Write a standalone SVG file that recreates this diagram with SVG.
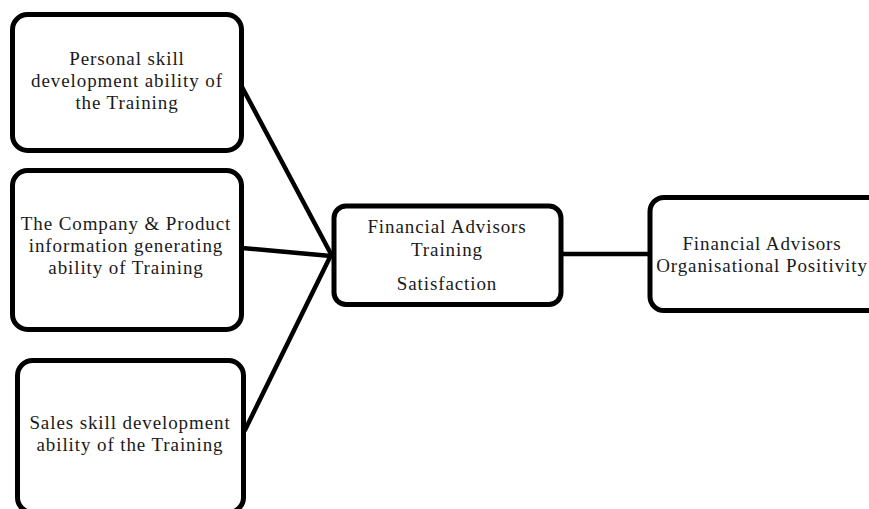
<svg xmlns="http://www.w3.org/2000/svg" width="869" height="509" viewBox="0 0 869 509">
<style>
.box{fill:#fff;stroke:#000;stroke-width:5}
.t{font-family:"Liberation Serif","Times New Roman",serif;font-size:19px;fill:#1a1a1a;text-anchor:middle;letter-spacing:0.9px}
.c{stroke:#000;stroke-width:4.5;fill:none;stroke-linecap:round}
</style>
<rect width="869" height="509" fill="#fff"/>
<g id="connectors">
<line class="c" x1="242" y1="87" x2="331" y2="254"/>
<line class="c" x1="242" y1="248" x2="331" y2="256"/>
<line class="c" x1="245" y1="430" x2="331" y2="255"/>
<line class="c" x1="561" y1="254" x2="650" y2="254"/>
</g>
<g id="node1">
<rect class="box" x="12.5" y="14.5" width="229" height="136" rx="15"/>
<text class="t" x="127" y="65">Personal skill</text>
<text class="t" x="127" y="87">development  ability of</text>
<text class="t" x="127" y="109">the Training</text>
</g>
<g id="node2">
<rect class="box" x="12.5" y="170.5" width="229" height="159" rx="15"/>
<text class="t" x="126" y="230">The Company &amp; Product</text>
<text class="t" x="126" y="252">information generating</text>
<text class="t" x="126" y="274">ability of Training</text>
</g>
<g id="node3">
<rect class="box" x="17.5" y="360.5" width="226" height="152" rx="15"/>
<text class="t" x="130" y="429">Sales skill development</text>
<text class="t" x="130" y="451">ability of the Training</text>
</g>
<g id="node4">
<rect class="box" x="334" y="206" width="227" height="98.5" rx="12"/>
<text class="t" x="447" y="233">Financial Advisors</text>
<text class="t" x="447" y="256">Training</text>
<text class="t" x="447" y="290">Satisfaction</text>
</g>
<g id="node5">
<rect class="box" x="650" y="197.5" width="240" height="113" rx="14"/>
<text class="t" x="762" y="250">Financial Advisors</text>
<text class="t" x="762" y="272">Organisational Positivity</text>
</g>
</svg>
